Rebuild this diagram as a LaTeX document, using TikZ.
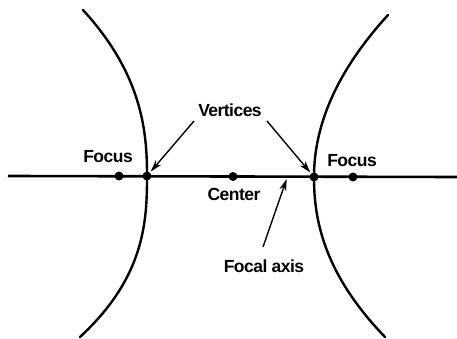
\documentclass[tikz,border=0pt]{standalone}
\usepackage{fontspec}
\newfontfamily\labfont{Liberation Sans Bold}[LetterSpace=-3]
\usetikzlibrary{arrows.meta}
\begin{document}
\begin{tikzpicture}[x=1pt,y=-1pt,
  branch/.style={line width=2.4pt,line cap=round},
  axisline/.style={line width=2.6pt},
  dot/.style={circle,fill=black,inner sep=0pt,minimum size=9pt},
  lab/.style={font=\labfont\fontsize{17.5}{18}\selectfont,anchor=base,inner sep=0pt},
  arr/.style={line width=1.4pt,-{Stealth[length=12pt,width=7pt]},shorten >=1pt}]
\useasboundingbox (0,0) rectangle (457,339);
% axis
\coordinate (axl) at (8,176);
\coordinate (axr) at (457,177);
\draw[axisline] (axl) -- (axr);
% branches
\draw[branch] plot[domain=10:176,samples=60,variable=\t] ({147-64*pow((abs(176-\t)+0.01)/166,2.38)},\t)
  -- plot[domain=176:337,samples=60,variable=\t] ({147-67*pow((abs(\t-176)+0.01)/161,2.6)},\t);
\draw[branch] plot[domain=15:177,samples=60,variable=\t] ({314+74*pow((abs(177-\t)+0.01)/162,2)},\t)
  -- plot[domain=177:337,samples=60,variable=\t] ({314+71*pow((abs(\t-177)+0.01)/160,2.18)},\t);
% dots
\node[dot] (lf) at (119,176) {};
\node[dot] (lv) at (147,176) {};
\node[dot] (ct) at (233,176.5) {};
\node[dot] (rv) at (314,177) {};
\node[dot] (rf) at (353,177) {};
% labels
\node[lab] (vert) at (230,117) {Vertices};
\node[lab] (flab) at (108,163) {Focus};
\node[lab] (frab) at (352,167) {Focus};
\node[lab] (clab) at (234,200) {Center};
\node[lab] (alab) at (264,272) {Focal axis};
% arrows
\coordinate (va) at (194,121);
\coordinate (vb) at (267,121);
\coordinate (fa) at (263,247);
\coordinate (fb) at (287,178);
\draw[arr] (va) -- (lv);
\draw[arr] (vb) -- (rv);
\draw[arr] (fa) -- (fb);
\end{tikzpicture}
\end{document}
